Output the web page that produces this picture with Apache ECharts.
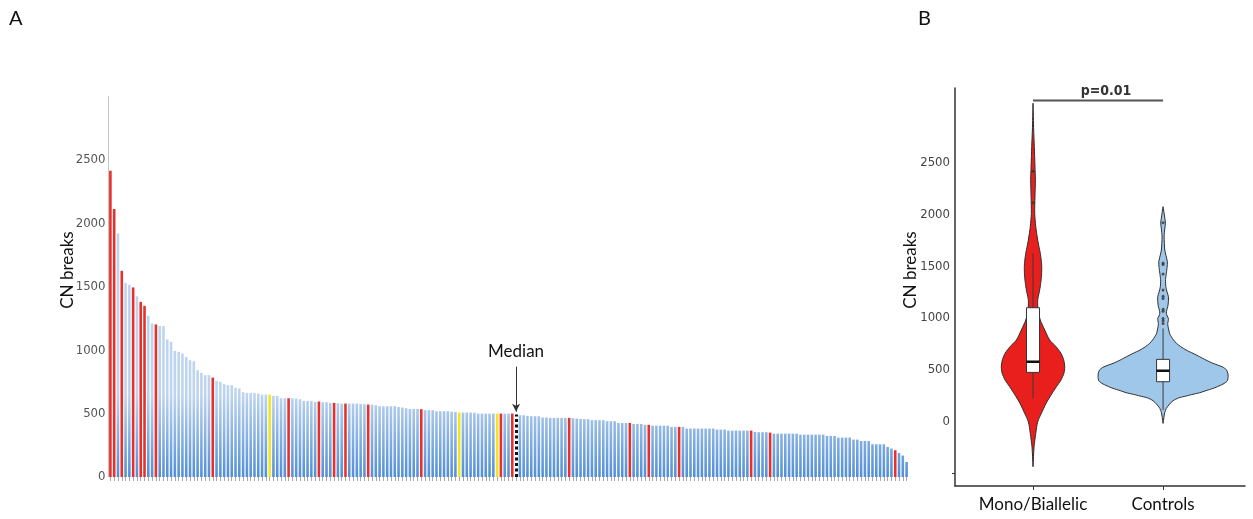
<!DOCTYPE html>
<html>
<head>
<meta charset="utf-8">
<script src="https://cdn.jsdelivr.net/npm/echarts@6/dist/echarts.min.js"></script>
<style>
  html, body { margin: 0; padding: 0; background: #ffffff; }
  #chart { width: 1253px; height: 519px; }
</style>
</head>
<body>
<div id="chart"></div>
<script>
// ---------- Panel A: CN breaks per sample, sorted from highest to lowest ----------
const cnBreaks = [
  2416, 2113, 1921, 1626, 1531, 1516, 1495, 1426, 1381, 1350,
  1271, 1211, 1203, 1190, 1190, 1085, 1066, 995, 987, 974,
  947, 921, 913, 842, 821, 803, 803, 784, 758, 750,
  732, 724, 724, 703, 698, 669, 663, 663, 663, 658,
  650, 650, 650, 640, 640, 621, 621, 621, 621, 619,
  613, 600, 600, 600, 592, 595, 590, 590, 584, 584,
  582, 579, 579, 579, 579, 579, 576, 574, 571, 571,
  566, 558, 558, 558, 558, 558, 552, 548, 542, 537,
  537, 537, 535, 527, 527, 527, 519, 519, 519, 519,
  515, 513, 508, 508, 508, 508, 506, 500, 500, 500,
  500, 500, 500, 500, 500, 500, 500, 492, 487, 487,
  482, 479, 479, 479, 469, 469, 466, 466, 466, 466,
  466, 466, 464, 461, 458, 456, 456, 448, 448, 448,
  448, 440, 440, 440, 426, 426, 426, 426, 418, 418,
  418, 411, 411, 405, 405, 405, 405, 405, 395, 395,
  395, 395, 382, 382, 382, 382, 382, 382, 382, 382,
  374, 374, 374, 366, 366, 366, 366, 366, 366, 366,
  355, 353, 353, 353, 350, 342, 342, 342, 342, 342,
  342, 342, 334, 334, 334, 334, 334, 334, 334, 324,
  324, 324, 311, 311, 311, 311, 295, 295, 284, 284,
  284, 258, 258, 258, 258, 237, 224, 211, 190, 169,
  118
];
// 1-based sample positions of the highlighted bars
const monoBiallelicPos = [1, 2, 4, 7, 9, 10, 13, 28, 48, 56, 60, 63, 69, 83, 104, 107, 122, 138, 143, 151, 170, 175, 208];
const yellowPos = [43, 93, 103];
const medianPos = 108;
// "Median" arrow, from / to (CN breaks)
const medianArrow = [870, 515];
const aTickLabels = [0, 500, 1000, 1500, 2000, 2500];

// ---------- Panel B: violin + box plots ----------
const groups = ['Mono/Biallelic', 'Controls'];
const groupX = [1, 2];
// violin outlines: [CN breaks, half width in group units]
const monoViolin = [
  [-434, 0], [-241, 0.008], [-113, 0.021], [0, 0.036], [80, 0.064], [177, 0.100],
  [273, 0.146], [340, 0.181], [402, 0.215], [470, 0.238], [531, 0.244], [600, 0.235],
  [660, 0.215], [724, 0.177], [788, 0.128], [885, 0.090], [981, 0.056], [1078, 0.038],
  [1174, 0.036], [1239, 0.046], [1300, 0.055], [1367, 0.062], [1430, 0.066], [1496, 0.067],
  [1560, 0.063], [1625, 0.056], [1700, 0.044], [1753, 0.036], [1882, 0.021], [2011, 0.013],
  [2172, 0.015], [2333, 0.018], [2461, 0.015], [2654, 0.010], [2815, 0.005], [3073, 0]
];
const controlsViolin = [
  [-16, 0], [40, 0.006], [90, 0.013], [129, 0.025], [170, 0.050], [203, 0.077],
  [230, 0.120], [248, 0.177], [265, 0.230], [280, 0.282], [300, 0.330], [322, 0.385],
  [345, 0.430], [370, 0.470], [395, 0.494], [434, 0.500], [466, 0.498], [500, 0.488],
  [530, 0.455], [563, 0.385], [595, 0.330], [627, 0.282], [660, 0.230], [692, 0.177],
  [725, 0.135], [756, 0.103], [790, 0.080], [820, 0.064], [850, 0.050], [885, 0.044],
  [920, 0.038], [949, 0.036], [975, 0.040], [997, 0.041], [1020, 0.032], [1046, 0.025],
  [1080, 0.029], [1110, 0.036], [1160, 0.041], [1207, 0.041], [1250, 0.031], [1303, 0.021],
  [1370, 0.019], [1432, 0.025], [1490, 0.031], [1544, 0.033], [1600, 0.023], [1657, 0.013],
  [1786, 0.008], [1870, 0.014], [1914, 0.018], [1960, 0.014], [2011, 0.008], [2075, 0]
];
// box stats: [lower whisker, Q1, median, Q3, upper whisker]
const monoBox = [225, 476, 579, 1100, 1626];
const controlsBox = [113, 386, 492, 602, 900];
const monoOutliers = [2416, 2113];
const controlsOutliers = [1921, 1531, 1516, 1426, 1271, 1211, 1190, 1085, 1066, 995, 974, 947];
const pValueText = 'p=0.01';
const pBracketLevel = 3100;
const bTickLabels = [0, 500, 1000, 1500, 2000, 2500];
const bExtraTicks = [-500];

const narrowFont = "'Liberation Sans Narrow', 'Arial Narrow', 'DejaVu Sans Condensed', sans-serif";
const textFont = "Lato, 'Open Sans', sans-serif";

const chart = echarts.init(document.getElementById('chart'), null, { renderer: 'canvas' });

const categories = cnBreaks.map((v, i) => String(i + 1));
const blueFill = new echarts.graphic.LinearGradient(0, 395, 0, 480, [
  { offset: 0, color: '#bdd4ef' },
  { offset: 1, color: '#4d8cd6' }
], true);

const barData = cnBreaks.map((v, i) => {
  const pos = i + 1;
  let color = blueFill;
  if (monoBiallelicPos.includes(pos)) color = '#e8302a';
  else if (yellowPos.includes(pos)) color = '#f3e51d';
  else if (pos === medianPos) color = 'rgba(0,0,0,0)';
  return { value: v, itemStyle: { color } };
});

function violinRenderer(profile, fill) {
  return function (params, api) {
    const cx = api.value(0);
    const right = profile.map(p => api.coord([cx + p[1], p[0]]));
    const left = profile.slice().reverse().map(p => api.coord([cx - p[1], p[0]]));
    return {
      type: 'polygon',
      shape: { points: right.concat(left), smooth: 0.25 },
      style: { fill: fill, stroke: '#2e2e2e', lineWidth: 1 }
    };
  };
}

function boxRenderer(params, api) {
  const cx = api.value(0);
  const lo = api.value(1), q1 = api.value(2), med = api.value(3), q3 = api.value(4), hi = api.value(5);
  const hw = 0.05;
  const pLo = api.coord([cx, lo]);
  const pHi = api.coord([cx, hi]);
  const tl = api.coord([cx - hw, q3]);
  const br = api.coord([cx + hw, q1]);
  const ml = api.coord([cx - hw, med]);
  const mr = api.coord([cx + hw, med]);
  return {
    type: 'group',
    children: [
      { type: 'line', shape: { x1: pLo[0], y1: pLo[1], x2: pHi[0], y2: pHi[1] },
        style: { stroke: '#3a3a3a', lineWidth: 1 } },
      { type: 'rect', shape: { x: tl[0], y: tl[1], width: br[0] - tl[0], height: br[1] - tl[1] },
        style: { fill: '#ffffff', stroke: '#333333', lineWidth: 1 } },
      { type: 'line', shape: { x1: ml[0], y1: ml[1], x2: mr[0], y2: mr[1] },
        style: { stroke: '#111111', lineWidth: 2.5 } }
    ]
  };
}

function bracketRenderer(params, api) {
  const a = api.coord([api.value(0), api.value(2)]);
  const b = api.coord([api.value(1), api.value(2)]);
  return {
    type: 'group',
    children: [
      { type: 'line', shape: { x1: a[0], y1: a[1], x2: b[0], y2: b[1] },
        style: { stroke: '#555555', lineWidth: 2 } },
      { type: 'text', x: (a[0] + b[0]) / 2 + 8, y: a[1] - 2,
        style: { text: pValueText, fill: '#333333', font: 'bold 14px ' + narrowFont,
                 align: 'center', verticalAlign: 'bottom' } }
    ]
  };
}

const plainNumber = v => String(v);

const option = {
  animation: false,
  backgroundColor: '#ffffff',
  grid: [
    { left: 108.5, top: 96.6, width: 800, height: 380.4 },
    { left: 955, top: 88, right: 8, bottom: 33 }
  ],
  xAxis: [
    {
      gridIndex: 0, type: 'category', data: categories, boundaryGap: true, offset: 3,
      axisLine: { show: false },
      axisTick: { show: true, alignWithLabel: true, interval: 0, length: 4, lineStyle: { color: '#a8a8a8' } },
      axisLabel: { show: false },
      splitLine: { show: false }
    },
    {
      gridIndex: 1, type: 'value', min: 0.4, max: 2.63,
      axisLine: { show: true, onZero: false, lineStyle: { color: '#333333', width: 1.5 } },
      axisTick: { show: true, customValues: groupX, length: 4, lineStyle: { color: '#333333' } },
      axisLabel: {
        show: true, customValues: groupX, margin: 10,
        formatter: v => groups[groupX.indexOf(v)] || '',
        color: '#111111', fontSize: 17, fontFamily: textFont
      },
      splitLine: { show: false }
    }
  ],
  yAxis: [
    {
      gridIndex: 0, type: 'value', min: 0, max: 3000,
      axisLine: { show: true, lineStyle: { color: '#c4c4c4', width: 1 } },
      axisTick: { show: false },
      axisLabel: { show: true, customValues: aTickLabels, formatter: plainNumber, margin: 3,
                   color: '#555555', fontSize: 13, fontFamily: narrowFont },
      splitLine: { show: false }
    },
    {
      gridIndex: 1, type: 'value', min: -620, max: 3220,
      axisLine: { show: true, onZero: false, lineStyle: { color: '#333333', width: 1.5 } },
      axisTick: { show: true, customValues: bExtraTicks, length: 3, lineStyle: { color: '#333333' } },
      axisLabel: { show: true, customValues: bTickLabels, formatter: plainNumber, margin: 5,
                   color: '#444444', fontSize: 13, fontFamily: narrowFont },
      splitLine: { show: false }
    }
  ],
  series: [
    {
      type: 'bar', xAxisIndex: 0, yAxisIndex: 0, data: barData, barWidth: '68%',
      markLine: {
        silent: true, symbol: ['none', 'none'],
        data: [
          [
            { coord: [String(medianPos), 0], lineStyle: { color: '#111111', width: 3, type: [3, 2.5] }, label: { show: false } },
            { coord: [String(medianPos), cnBreaks[medianPos - 1]] }
          ],
          [
            { coord: [String(medianPos), medianArrow[0]], lineStyle: { color: '#333333', width: 1, type: 'solid' },
              label: { show: true, position: 'start', distance: 7, formatter: 'Median', color: '#111111', fontSize: 17, fontFamily: textFont } },
            { coord: [String(medianPos), medianArrow[1]], symbol: 'arrow', symbolSize: [6, 8] }
          ]
        ]
      }
    },
    {
      type: 'custom', xAxisIndex: 1, yAxisIndex: 1, clip: false, z: 2,
      renderItem: violinRenderer(monoViolin, '#e81f1d'),
      encode: { x: 0, y: 1 }, data: [[groupX[0], 0]]
    },
    {
      type: 'custom', xAxisIndex: 1, yAxisIndex: 1, clip: false, z: 2,
      renderItem: violinRenderer(controlsViolin, '#9fc7ea'),
      encode: { x: 0, y: 1 }, data: [[groupX[1], 0]]
    },
    {
      type: 'custom', xAxisIndex: 1, yAxisIndex: 1, clip: false, z: 3,
      renderItem: boxRenderer,
      encode: { x: 0, y: [1, 2, 3, 4, 5] },
      data: [[groupX[0]].concat(monoBox), [groupX[1]].concat(controlsBox)]
    },
    {
      type: 'scatter', xAxisIndex: 1, yAxisIndex: 1, z: 4, symbolSize: 3,
      itemStyle: { color: '#333333' },
      data: monoOutliers.map(v => [groupX[0], v]).concat(controlsOutliers.map(v => [groupX[1], v]))
    },
    {
      type: 'custom', xAxisIndex: 1, yAxisIndex: 1, clip: false, z: 4,
      renderItem: bracketRenderer,
      encode: { x: [0, 1], y: 2 },
      data: [[groupX[0], groupX[1], pBracketLevel]]
    }
  ],
  graphic: [
    { type: 'text', x: 9, y: 9, style: { text: 'A', font: '20px ' + textFont, fill: '#111111' } },
    { type: 'text', x: 918, y: 9, style: { text: 'B', font: '20px ' + textFont, fill: '#111111' } },
    { type: 'text', x: 68, y: 270, rotation: Math.PI / 2,
      style: { text: 'CN breaks', font: '17px ' + textFont, fill: '#111111', align: 'center', verticalAlign: 'middle' } },
    { type: 'text', x: 911, y: 270, rotation: Math.PI / 2,
      style: { text: 'CN breaks', font: '17px ' + textFont, fill: '#111111', align: 'center', verticalAlign: 'middle' } }
  ]
};

chart.setOption(option);
</script>
</body>
</html>
